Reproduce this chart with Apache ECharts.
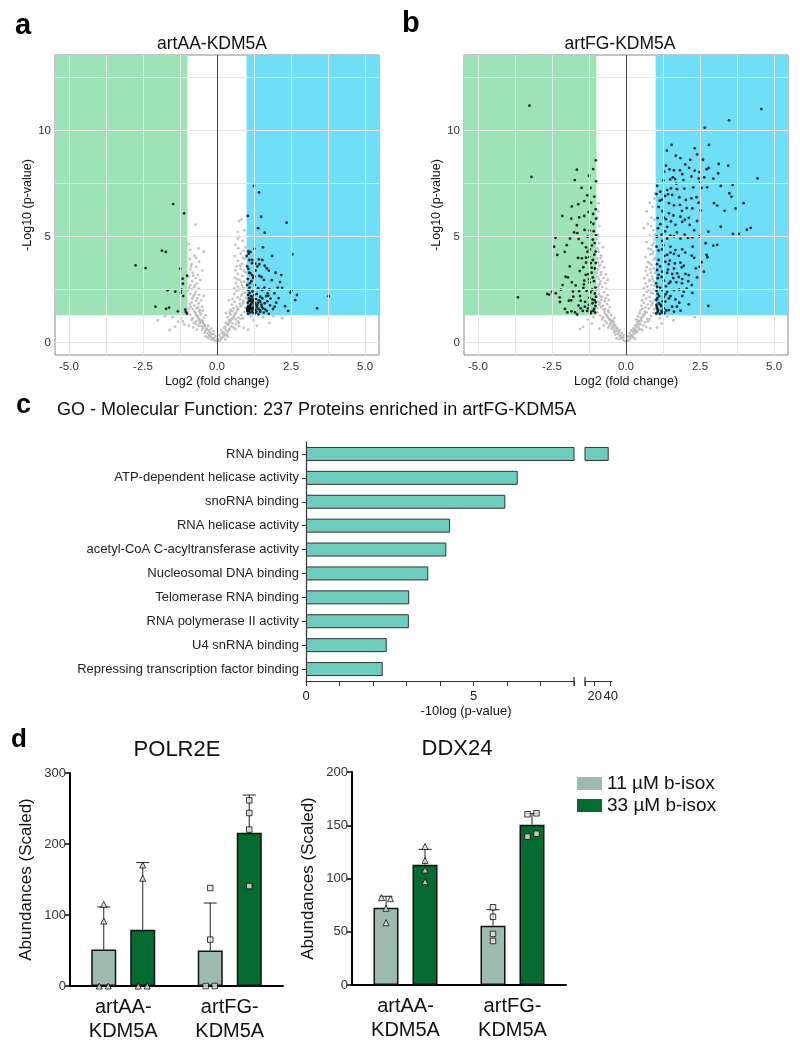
<!DOCTYPE html>
<html><head><meta charset="utf-8">
<script src="https://cdn.jsdelivr.net/npm/echarts@6/dist/echarts.min.js"></script>
<style>html,body{margin:0;padding:0;background:#fff}#c{width:800px;height:1046px}</style>
</head><body><div id="c"></div>
<script>
// ---------------- DATA ----------------
const FC_CUT = 1;        // log2 fold-change threshold
const P_CUT = 1.3;       // -log10(0.05)
const VX_TICKS = [-5, -2.5, 0, 2.5, 5];
const VY_TICKS = [0, 5, 10];
const VX_GRID = [-5, -3.75, -2.5, -1.25, 0, 1.25, 2.5, 3.75, 5];
const VY_GRID = [0, 2.5, 5, 7.5, 10, 12.5];

// panel a: artAA-KDM5A
const AA_NS = [[0,0.02],[-0.04,0.06],[0.05,0.05],[-0.1,0.12],[0.09,0.1],[-0.15,0.2],[0.14,0.18],[-0.2,0.28],[0.2,0.26],[-0.26,0.36],[0.26,0.34],[-0.32,0.44],[0.3,0.42],[-0.06,0.3],[0.08,0.36],[-0.12,0.42],[0.16,0.46],[-0.22,0.48],[0.02,0.16],[-0.3,0.22],[0.28,0.15],[-0.38,0.3],[0.36,0.28],
[-0.4,0.55],[-0.35,0.62],[-0.46,0.7],[-0.28,0.58],[-0.52,0.78],[-0.42,0.85],[-0.58,0.92],[-0.2,0.66],[-0.3,0.8],[-0.48,0.98],[0.36,0.52],[0.3,0.6],[0.42,0.66],[0.24,0.7],[0.48,0.76],[0.38,0.84],[0.52,0.9],[0.3,0.94],[0.45,1.0],[-0.68,0.62],[-0.8,0.72],[-0.95,0.8],[0.62,0.64],[0.75,0.78],[0.9,0.7],[-1.1,0.85],[-1.42,0.75],[-1.6,0.6],[1.35,0.8],[1.05,0.62],[-0.12,0.55],[0.15,0.6],
[-0.5,1.05],[-0.6,1.12],[-0.44,1.18],[-0.66,1.25],[-0.55,1.32],[-0.72,1.4],[-0.6,1.48],[-0.38,1.3],[-0.82,1.15],[-0.9,1.32],[-0.98,1.45],[0.4,1.05],[0.5,1.12],[0.36,1.2],[0.58,1.26],[0.46,1.34],[0.64,1.4],[0.52,1.48],[0.72,1.18],[0.82,1.3],[0.92,1.44],[0.3,1.4],[-1.22,1.15],[-1.31,0.99],[-1.5,1.2],[-2.0,1.05],[-1.75,1.25],[1.23,1.07],[1.56,1.2],[1.77,0.93],[2.2,1.15],[1.9,1.25],[1.15,1.25],[-1.15,1.0],
[-0.58,1.55],[-0.68,1.62],[-0.5,1.7],[-0.76,1.75],[-0.62,1.85],[-0.86,1.9],[-0.7,1.98],[-0.95,1.6],[-0.54,2.0],[-0.66,2.1],[-0.8,2.18],[-0.6,2.26],[-0.9,2.3],[-0.72,2.4],[-0.98,2.45],[-0.45,2.2],[0.46,1.55],[0.56,1.62],[0.66,1.7],[0.5,1.8],[0.76,1.84],[0.6,1.92],[0.88,1.98],[0.96,1.65],[0.52,2.06],[0.7,2.14],[0.82,2.22],[0.58,2.3],[0.94,2.36],[0.66,2.44],[0.4,2.0],[0.98,2.1],
[-0.62,2.55],[-0.78,2.62],[-0.9,2.7],[-0.68,2.8],[-0.84,2.9],[-0.56,2.95],[-0.72,3.05],[-0.95,3.1],[-0.64,3.2],[-0.82,3.3],[-0.5,3.4],[-0.9,3.45],[0.58,2.56],[0.7,2.64],[0.84,2.72],[0.64,2.82],[0.92,2.88],[0.76,2.96],[0.6,3.06],[0.86,3.14],[0.7,3.24],[0.96,3.32],[0.62,3.42],[0.8,3.48],
[-0.7,3.58],[-0.86,3.7],[-0.6,3.82],[-0.92,3.95],[-0.76,4.1],[-0.45,4.29],[-0.91,4.38],[-0.62,4.45],[0.66,3.6],[0.84,3.72],[0.7,3.86],[0.94,3.98],[0.6,4.08],[0.8,4.2],[0.9,4.34],[0.72,4.46],
[-0.95,4.65],[-0.72,5.57],[0.62,4.62],[0.86,4.8],[0.74,5.0],[0.7,5.22],[0.75,5.74],[0.83,5.82],[0.92,5.3],
[-0.18,0.4],[-0.25,0.52],[0.22,0.5],[-0.34,0.66],[0.28,0.74],[-0.4,0.78],[0.34,0.88],[-0.46,0.88],[0.4,0.92],[-0.54,1.0],[0.46,1.08],[-0.6,1.05],[0.54,1.18],[-0.64,1.18],[0.6,1.36],[-0.7,1.3],[0.68,1.52],[-0.76,1.46],[0.72,1.6],[-0.82,1.58],[0.8,1.72],[-0.88,1.7],[0.86,1.82],[-0.92,1.82],[0.9,1.9],[-0.56,1.4],[0.42,1.44],[-0.48,1.52],[0.62,1.1],[-0.7,1.02],[0.7,1.0],[-0.78,0.95],[0.8,1.12],[-0.86,1.08],[0.88,1.16],[-0.64,1.68],[0.78,2.04],[-0.84,2.08],[0.86,2.3],[-0.76,2.28],[0.74,2.5],[-0.86,2.52],[0.9,2.6],[-0.94,2.6],[0.82,2.86],[-0.74,2.7],[0.68,3.0],[-0.8,3.16],[0.9,3.4],[-0.88,3.6],[0.78,3.62],[0.88,4.0],[-0.7,4.0],[0.96,4.5],[0.7,4.9],[-0.1,0.2],[0.12,0.24],[-0.2,0.15],[0.22,0.38],[-0.28,0.3],[0.34,0.36],[-0.42,0.46],[0.4,0.6],[-0.5,0.62],[0.56,0.72],[-0.62,0.8],[0.64,0.86],[-0.72,0.88],[0.74,0.94]];
const AA_DOWN = [[-1.48,6.54],[-1.11,6.10],[-1.86,4.34],[-1.73,4.28],[-2.75,3.65],[-2.41,3.52],[-1.24,3.49],[-1.01,3.16],[-1.16,3.02],[-1.15,2.78],[-1.67,2.47],[-1.41,2.41],[-1.22,2.36],[-1.14,2.20],[-2.08,1.70],[-1.72,1.60],[-1.62,1.65],[-1.32,1.48],[-1.07,1.56],[-1.01,1.37],[-1.05,1.45],[-1.2,2.5]];
const AA_UP = [[1.25,7.39],[1.42,7.09],[1.04,5.98],[1.49,5.94],[1.39,5.40],[1.61,5.19],[2.35,5.66],[1.26,4.43],[1.55,4.50],[1.86,4.09],[2.54,4.17],[1.06,4.31],[1.13,4.28],[1.00,4.09],[1.09,3.90],[1.19,3.90],[1.41,3.93],[1.53,3.90],[1.29,3.73],[1.43,3.70],[1.61,3.63],[1.68,3.51],[1.06,3.48],[1.13,3.27],[1.19,3.18],[1.26,3.12],[1.43,3.15],[1.58,2.96],[2.17,3.19],[2.13,2.86],[2.20,2.59],[2.51,2.45],[2.48,2.36],[2.70,2.25],[2.64,2.01],[3.77,2.19],[3.38,1.62],[1.94,2.33],[1.77,2.52],[2.00,1.89],[1.73,2.22],[1.81,2.08],[1.79,1.76],[1.89,1.59],[1.68,1.50],[1.58,1.42],[1.46,1.46],[1.33,1.45],[1.21,1.42],[1.05,1.36],[1.02,2.72],[1.11,2.80],[1.28,2.72],[1.39,2.57],[1.53,2.49],[1.06,2.49],[1.14,2.20],[1.08,2.09],[1.11,1.98],[1.17,1.93],[1.23,2.04],[1.28,1.86],[1.36,1.78],[1.46,1.93],[1.53,2.09],[1.61,1.86],[1.06,1.70],[1.15,1.62],[1.25,1.57],[1.08,1.51],[1.40,1.60],[1.51,1.70],[1.13,1.78],[1.19,2.17],[1.34,2.30],[1.46,2.17],[1.71,2.33],[1.02,1.54],[1.63,1.57],
[1.03,1.48],[1.07,1.55],[1.1,1.66],[1.12,1.74],[1.16,1.82],[1.2,1.9],[1.24,1.98],[1.04,1.88],[1.08,1.95],[1.15,2.05],[1.18,1.5],[1.22,1.66],[1.27,1.78],[1.3,1.55],[1.34,1.68],[1.38,1.88],[1.42,2.0],[1.05,2.25],[1.1,2.35],[1.2,2.42],[1.32,2.06],[1.26,2.26],[1.45,1.52],[1.5,1.8],[1.55,1.62],[1.1,2.6],[1.16,2.9],[1.22,3.05],[1.3,3.4],[1.36,3.6],[1.04,3.0],[1.09,3.3],[1.18,3.75],[1.02,3.6],[1.07,4.2],[1.66,2.2],[1.7,1.95],[1.95,1.7],[2.08,2.1],[2.3,1.72],[1.6,2.6],[1.85,2.95],[1.98,3.3],[2.05,2.6],[1.75,3.4],[1.5,3.1],[1.12,1.42],[1.28,1.38],[1.4,1.34],[1.75,1.36],[2.4,1.5],[1.02,1.62],[1.06,1.72],[1.14,1.6]];

// panel b: artFG-KDM5A
const FG_NS = [[0,0.02],[-0.05,0.08],[0.04,0.06],[-0.1,0.15],[0.1,0.12],[-0.16,0.24],[0.15,0.2],[-0.22,0.32],[0.2,0.3],[-0.28,0.42],[0.26,0.4],[-0.08,0.36],[0.06,0.28],[-0.14,0.46],[0.12,0.44],[-0.32,0.2],[0.3,0.18],[0.32,0.48],[-0.36,0.38],
[-0.34,0.54],[-0.4,0.62],[-0.3,0.7],[-0.46,0.76],[-0.36,0.84],[-0.52,0.9],[-0.42,0.98],[-0.22,0.6],[-0.6,0.7],[-0.75,0.82],[-0.9,0.66],[0.3,0.55],[0.36,0.62],[0.26,0.68],[0.42,0.74],[0.32,0.82],[0.48,0.88],[0.38,0.96],[0.55,0.6],[0.68,0.75],[0.82,0.68],[-1.15,0.9],[-1.55,0.65],[-1.45,0.75],[1.2,0.9],[1.05,0.72],[0.18,0.58],
[-0.46,1.04],[-0.56,1.1],[-0.4,1.16],[-0.62,1.22],[-0.5,1.3],[-0.7,1.36],[-0.58,1.44],[-0.8,1.1],[-0.88,1.28],[-0.96,1.42],[0.42,1.04],[0.34,1.1],[0.5,1.16],[0.4,1.24],[0.58,1.3],[0.46,1.38],[0.64,1.46],[0.72,1.12],[0.84,1.26],[0.94,1.4],[1.39,1.23],[2.32,1.2],[1.6,1.05],[-1.3,1.1],[-1.1,1.2],[1.15,1.15],
[-0.6,1.52],[-0.7,1.6],[-0.55,1.68],[-0.78,1.74],[-0.64,1.82],[-0.88,1.88],[-0.72,1.96],[-0.96,1.62],[-0.58,2.02],[-0.68,2.1],[-0.82,2.16],[-0.62,2.24],[-0.92,2.3],[-0.74,2.38],[-0.98,2.46],[-0.84,2.02],[0.48,1.52],[0.56,1.6],[0.66,1.66],[0.52,1.74],[0.74,1.8],[0.6,1.88],[0.84,1.94],[0.94,1.58],[0.54,2.0],[0.68,2.08],[0.8,2.16],[0.6,2.24],[0.9,2.32],[0.7,2.4],[0.98,2.06],[0.78,2.48],
[-0.66,2.54],[-0.8,2.62],[-0.92,2.72],[-0.7,2.8],[-0.86,2.9],[-0.62,2.96],[-0.76,3.06],[-0.96,3.12],[-0.68,3.22],[-0.84,3.32],[-0.94,3.44],[0.6,2.56],[0.72,2.64],[0.86,2.72],[0.66,2.8],[0.94,2.88],[0.78,2.96],[0.62,3.04],[0.88,3.12],[0.72,3.2],[0.98,3.3],[0.66,3.38],[0.82,3.46],
[-0.74,3.56],[-0.88,3.68],[-0.8,3.82],[-0.96,3.96],[-0.84,4.12],[-0.92,4.3],[-0.78,4.5],[-0.9,4.7],[0.7,3.56],[0.86,3.66],[0.74,3.8],[0.94,3.92],[0.66,4.04],[0.82,4.16],[0.92,4.3],[0.76,4.44],[0.88,4.6],[0.7,4.74],[0.96,4.86],
[-0.95,5.1],[-0.9,5.5],[-0.97,5.9],[-0.92,6.58],[0.8,5.05],[0.92,5.3],[0.74,5.6],[0.86,5.9],[0.7,6.2],[0.9,6.4],[0.99,7.05],[0.96,6.8],[0.6,5.4],
[-0.18,0.36],[0.18,0.34],[-0.24,0.5],[0.22,0.52],[-0.3,0.62],[0.28,0.64],[-0.38,0.72],[0.34,0.76],[-0.44,0.86],[0.4,0.86],[-0.5,0.98],[0.46,1.0],[-0.54,1.08],[0.52,1.06],[-0.6,1.18],[0.56,1.22],[-0.66,1.3],[0.62,1.34],[-0.72,1.46],[0.7,1.42],[-0.76,1.56],[0.78,1.62],[-0.84,1.66],[0.86,1.76],[-0.9,1.78],[0.9,1.86],[-0.94,1.94],[0.96,2.0],[-0.86,2.2],[0.84,2.36],[-0.9,2.5],[0.92,2.5],[-0.96,2.62],[0.96,2.7],[-0.88,2.76],[0.8,2.9],[-0.92,3.0],[0.9,3.0],[-0.86,3.2],[0.84,3.3],[-0.98,3.3],[0.94,3.5],[-0.9,3.6],[0.8,3.74],[-0.94,3.8],[0.98,4.0],[-0.86,4.0],[0.9,4.2],[-0.96,4.46],[0.84,4.4],[0.94,4.7],[-0.98,4.9],[0.98,5.1],[0.84,5.5],[0.96,5.8],[0.8,6.6],[-0.94,6.2],[-0.1,0.26],[0.12,0.3],[-0.22,0.18],[0.24,0.24],[-0.4,0.5],[0.38,0.52],[-0.48,0.66],[0.46,0.64],[-0.56,0.8],[0.58,0.82],[-0.64,0.92],[0.64,0.96],[-0.7,1.02],[0.74,1.0],[-0.78,1.2],[0.8,1.1]];
const FG_DOWN = [[-3.26,11.18],[-3.19,7.82],[-1.02,8.60],[-1.66,8.16],[-1.11,8.19],[-1.25,7.88],[-1.73,7.67],[-1.01,7.61],[-1.31,6.95],[-1.07,6.89],[-1.41,6.68],[-1.61,6.53],[-1.83,6.43],[-2.15,5.98],[-1.85,5.85],[-1.58,5.91],[-1.41,5.98],[-1.26,6.17],[-1.11,6.07],[-1.01,5.85],[-1.20,5.68],[-1.66,5.54],[-1.40,5.32],[-1.23,5.29],[-1.09,5.26],[-1.64,5.17],[-2.38,4.95],[-1.89,4.91],[-1.60,4.89],[-1.01,5.06],[-2.43,4.53],[-2.07,4.28],[-2.32,4.14],[-1.12,4.86],[-1.15,4.58],[-1.30,4.29],[-1.49,3.98],[-1.35,4.01],[-1.24,4.04],[-1.07,4.15],[-1.02,3.76],[-1.19,3.75],[-1.35,3.78],[-1.44,3.56],[-1.16,3.54],[-1.56,3.38],[-1.27,3.23],[-2.04,3.11],[-1.96,3.08],[-1.83,2.85],[-1.41,2.93],[-1.23,2.84],[-1.12,3.08],[-2.14,2.72],[-2.20,2.50],[-2.66,2.30],[-2.60,2.27],[-3.65,2.14],[-2.37,2.33],[-1.79,2.41],[-1.58,2.43],[-1.44,2.58],[-1.33,2.45],[-1.20,2.38],[-1.05,2.32],[-2.24,2.14],[-2.23,1.92],[-1.93,1.98],[-1.78,2.17],[-1.53,1.98],[-1.38,1.93],[-1.24,2.12],[-1.13,2.04],[-1.01,2.17],[-2.06,1.59],[-1.98,1.43],[-1.84,1.48],[-1.72,1.43],[-1.65,1.33],[-1.53,1.62],[-1.39,1.70],[-1.31,1.50],[-1.18,1.46],[-1.08,1.59],[-1.03,1.73],[-1.13,1.86],[-1.25,1.78],
[-1.03,2.6],[-1.08,2.9],[-1.16,3.3],[-1.05,3.5],[-1.22,4.4],[-1.06,4.7],[-1.3,5.0],[-1.1,5.6],[-1.02,6.3],[-1.18,6.6],[-1.5,7.3],[-1.2,7.3],[-1.04,1.42],[-1.1,1.5],[-1.2,1.38],[-1.28,1.62],[-1.46,1.5],[-1.55,2.2],[-1.7,2.7],[-1.9,3.6],[-2.0,4.6],[-1.75,5.2],[-1.62,4.0],[-1.35,4.5],[-1.48,4.7],[-1.12,3.9],[-1.02,4.3],[-1.06,2.0],[-1.14,2.5],[-1.25,3.0],[-1.36,3.2],[-1.42,2.75],[-1.6,1.75],[-1.85,2.0],[-2.5,2.4],[-1.02,1.9]];
const FG_UP = [[4.57,11.02],[3.48,10.49],[2.66,10.14],[4.44,7.75],[1.54,9.33],[1.38,9.06],[2.32,9.17],[2.80,9.33],[1.68,8.82],[1.84,8.71],[2.17,8.62],[2.40,8.88],[2.60,8.63],[3.13,8.43],[3.45,8.35],[1.29,8.07],[1.47,8.18],[1.62,8.13],[1.82,8.13],[2.13,8.25],[2.32,8.12],[2.48,8.05],[2.72,8.18],[2.79,8.24],[3.11,7.98],[1.26,7.66],[1.49,7.70],[1.66,7.72],[1.94,7.67],[2.21,7.84],[2.46,7.75],[2.64,7.80],[2.95,7.74],[3.60,7.44],[3.20,7.39],[2.55,7.30],[2.74,7.33],[2.27,7.33],[1.97,7.27],[1.72,7.24],[1.52,7.28],[1.39,7.20],[1.16,7.12],[1.03,7.01],[1.32,6.92],[1.56,6.97],[1.80,6.86],[2.02,6.73],[2.21,6.81],[2.38,6.86],[3.49,7.05],[3.56,6.89],[2.97,6.58],[3.08,6.47],[3.33,6.22],[3.97,6.58],[3.70,6.33],[1.14,6.70],[1.45,6.58],[1.62,6.48],[1.89,6.22],[2.24,6.33],[2.52,6.23],[1.23,6.20],[1.07,5.88],[1.35,5.82],[1.52,5.72],[1.84,5.94],[1.99,5.80],[2.12,5.89],[2.40,5.74],[1.16,5.59],[1.39,5.46],[1.67,5.56],[1.90,5.70],[2.15,5.56],[2.78,5.24],[3.20,5.47],[3.61,5.13],[3.81,5.13],[4.08,5.33],[4.21,5.42],[1.05,4.99],[1.22,4.80],[1.39,4.91],[1.62,5.02],[1.84,4.91],[2.09,4.94],[2.24,4.97],[2.49,5.02],[2.69,4.69],[2.95,4.58],[3.08,4.61],[2.25,4.53],[1.03,4.53],[1.22,4.40],[1.50,4.53],[1.67,4.37],[1.90,4.40],[1.39,4.14],[1.62,4.19],[2.22,4.11],[2.72,4.14],[2.75,4.03],[1.10,3.90],[1.33,3.82],[1.48,3.87],[1.65,3.74],[1.84,3.77],[1.95,3.63],[2.36,3.51],[2.49,3.58],[2.63,3.35],[1.05,3.43],[1.22,3.35],[1.39,3.30],[1.56,3.24],[1.73,3.27],[2.01,3.24],[2.12,3.19],[1.07,3.04],[1.28,2.93],[1.50,2.88],[1.70,2.85],[1.89,2.80],[2.40,3.08],[2.22,2.72],[1.05,2.64],[1.22,2.48],[1.39,2.40],[1.62,2.48],[1.79,2.51],[1.95,2.40],[2.24,2.35],[1.07,2.30],[1.28,2.17],[1.45,2.09],[1.67,2.04],[1.80,1.89],[2.12,1.81],[2.78,1.73],[1.03,2.01],[1.11,1.86],[1.19,1.73],[1.28,1.62],[1.45,1.54],[1.62,1.46],[1.84,1.51],[1.05,1.62],[1.07,1.46],[1.22,1.42],[1.03,1.78],[1.33,1.94],
[1.02,1.38],[1.08,1.55],[1.14,1.36],[1.2,1.5],[1.3,1.4],[1.36,1.52],[1.04,1.68],[1.16,1.8],[1.24,1.95],[1.06,2.1],[1.12,2.2],[1.34,2.28],[1.5,2.2],[1.56,1.7],[1.72,1.7],[1.9,2.2],[2.05,2.55],[1.03,2.45],[1.15,2.6],[1.35,2.66],[1.45,2.8],[1.6,3.05],[1.02,2.8],[1.1,3.2],[1.2,3.1],[1.42,3.45],[1.62,3.5],[1.78,3.1],[1.9,3.0],[2.1,2.9],[1.05,3.7],[1.15,3.6],[1.3,4.1],[1.5,4.25],[1.78,4.1],[2.0,4.25],[1.1,4.35],[1.2,5.1],[1.32,5.25],[1.5,5.05],[1.72,5.2],[1.98,5.1],[2.3,5.3],[1.08,5.4],[1.28,5.9],[1.45,6.1],[1.6,6.0],[1.82,6.5],[2.05,6.35],[1.1,6.4],[1.22,6.75],[1.42,7.0],[1.7,7.5],[1.9,7.95],[2.5,7.55],[1.05,7.4],[1.58,7.8],[2.0,8.4],[1.35,8.35],[2.45,6.6],[1.03,5.0],[1.26,4.6],[1.44,3.7],[1.88,3.55],[2.3,4.0],[2.55,3.8]];

// panel c: GO molecular function
const GO_TERMS = ['RNA binding','ATP-dependent helicase activity','snoRNA binding','RNA helicase activity','acetyl-CoA C-acyltransferase activity','Nucleosomal DNA binding','Telomerase RNA binding','RNA polymerase II activity','U4 snRNA binding','Repressing transcription factor binding'];
const GO_VALUES = [37.5, 6.32, 5.95, 4.30, 4.19, 3.65, 3.08, 3.07, 2.41, 2.29];
const GO_BREAK = [8, 41.6];        // axis break: lower segment 0-8, upper segment 8-41.6
const GO_UPPER_TICKS = [8, 20, 40];
const GO_UPPER_LABELS = [20, 40];

// panel d: abundances
const D_CATS = ['artAA-\nKDM5A', 'artFG-\nKDM5A'];
const SERIES_NAMES = ['11 µM b-isox', '33 µM b-isox'];
const POLR2E_MEAN_11 = [51.3, 49.9];
const POLR2E_MEAN_33 = [79.4, 216];
const POLR2E_SD_TOP_11 = [111.3, 116.9];
const POLR2E_SD_TOP_33 = [173.8, 269];
const POLR2E_REP_11 = [[115, 91.5, 0, 0], [138, 65.3, 0, 0]];
const POLR2E_REP_33 = [[170.4, 151.7, 0, 0], [261.5, 243.7, 220.3, 140.8]];
const DDX24_MEAN_11 = [72.6, 55.7];
const DDX24_MEAN_33 = [113, 150.5];
const DDX24_SD_TOP_11 = [83.3, 70.7];
const DDX24_SD_TOP_33 = [127.4, 161];
const DDX24_REP_11 = [[82, 81, 72, 58.5], [73, 64, 48, 41.3]];
const DDX24_REP_33 = [[130, 117, 108, 97], [160.3, 161.2, 139.3, 142]];

// ---------------- STYLE ----------------
const FONT = '"Liberation Sans", Arial, Helvetica, sans-serif';
const GREEN = '#9de3b7', BLUE = '#6fdff8', GRAY = '#b4b4b4';
const TEAL = '#6ccdbd', LIGHT = '#9dbbad', DARK = '#036a30';
const VX = [-5.47, 5.47], VY = [-0.58, 13.57];
const GO_GRID_BOTTOM = 442 + 239;

const chart = echarts.init(document.getElementById('c'), null, {renderer: 'canvas'});

function volcanoX(gi) {
  return {type: 'value', gridIndex: gi, min: VX[0], max: VX[1], z: 3,
    axisLine: {show: false}, splitLine: {show: false},
    axisTick: {show: true, customValues: VX_TICKS, length: 3, lineStyle: {color: '#444'}},
    axisLabel: {customValues: VX_TICKS, formatter: v => Number(v).toFixed(1), fontSize: 11.5, color: '#333', margin: 6, fontFamily: FONT},
    name: 'Log2 (fold change)', nameLocation: 'middle', nameGap: 20,
    nameTextStyle: {fontSize: 12.5, color: '#111', fontFamily: FONT}};
}
function volcanoY(gi) {
  return {type: 'value', gridIndex: gi, min: VY[0], max: VY[1], z: 3,
    axisLine: {show: false}, splitLine: {show: false},
    axisTick: {show: true, customValues: VY_TICKS, length: 3, lineStyle: {color: '#444'}},
    axisLabel: {customValues: VY_TICKS, fontSize: 11.5, color: '#333', margin: 4, fontFamily: FONT},
    name: '-Log10 (p-value)', nameLocation: 'middle', nameGap: 21,
    nameTextStyle: {fontSize: 12.5, color: '#111', fontFamily: FONT}};
}
function volcanoSeries(ai, ns, down, up) {
  const ax = {xAxisIndex: ai, yAxisIndex: ai};
  const gridLines = VX_GRID.map(v => ({xAxis: v})).concat(VY_GRID.map(v => ({yAxis: v})));
  return [
    Object.assign({type: 'scatter', data: [], z: 1, silent: true,
      markArea: {silent: true, data: [
        [{coord: [VX[0], P_CUT], itemStyle: {color: GREEN}}, {coord: [-FC_CUT, VY[1]]}],
        [{coord: [FC_CUT, P_CUT], itemStyle: {color: BLUE}}, {coord: [VX[1], VY[1]]}]
      ]}}, ax),
    Object.assign({type: 'scatter', data: [], z: 2, silent: true,
      markLine: {silent: true, symbol: ['none', 'none'], label: {show: false},
        lineStyle: {color: '#e6e6e6', width: 1, type: 'solid'}, animation: false, data: gridLines}}, ax),
    Object.assign({type: 'scatter', data: ns, z: 3, symbolSize: 2.8, itemStyle: {color: GRAY}, silent: true}, ax),
    Object.assign({type: 'scatter', data: down.concat(up), z: 4, symbolSize: 2.8, itemStyle: {color: '#000'}, silent: true}, ax),
    Object.assign({type: 'scatter', data: [], z: 5, silent: true,
      markLine: {silent: true, symbol: ['none', 'none'], label: {show: false},
        lineStyle: {color: '#444', width: 1, type: 'solid'}, animation: false, data: [{xAxis: 0}]}}, ax)
  ];
}

// pair up overlapping replicate points side by side (simple beeswarm)
function swarm(vals, thr) {
  const used = vals.map(() => false), off = vals.map(() => 0);
  for (let i = 0; i < vals.length; i++) {
    if (used[i]) continue;
    const cl = [i]; used[i] = true;
    for (let j = i + 1; j < vals.length; j++) {
      if (!used[j] && Math.abs(vals[j] - vals[i]) < thr) { cl.push(j); used[j] = true; }
    }
    if (cl.length > 1) cl.forEach((k, ci) => { off[k] = (ci - (cl.length - 1) / 2) * 9; });
  }
  return off;
}
const BAR_W = 25, BAR_GAP = 14, HALF = (BAR_W + BAR_GAP) / 2;
function repSeries(ai, reps, side, thr) {
  const data = [];
  reps.forEach((vals, c) => {
    const off = swarm(vals, thr);
    vals.forEach((v, k) => data.push({value: [c, v],
      symbol: c === 0 ? 'triangle' : 'rect', symbolSize: c === 0 ? 6 : 5.5,
      symbolOffset: [side * HALF + off[k], 0]}));
  });
  return {type: 'scatter', xAxisIndex: ai, yAxisIndex: ai, data, z: 6, silent: true,
    itemStyle: {color: '#e4e4e4', borderColor: '#111', borderWidth: 1}};
}
function errSeries(xi, yi, means, tops, side) {
  return {type: 'custom', xAxisIndex: xi, yAxisIndex: yi, z: 5, silent: true,
    data: means.map((m, i) => [i, m, tops[i]]),
    renderItem: (params, api) => {
      const p1 = api.coord([api.value(0), api.value(1)]);
      const p2 = api.coord([api.value(0), api.value(2)]);
      const x = p1[0] + side * HALF;
      return {type: 'group', children: [
        {type: 'line', shape: {x1: x, y1: p1[1], x2: x, y2: p2[1]}, style: {stroke: '#222', lineWidth: 1}},
        {type: 'line', shape: {x1: x - 6.5, y1: p2[1], x2: x + 6.5, y2: p2[1]}, style: {stroke: '#222', lineWidth: 1}}
      ]};
    }};
}
function barSeries(xi, yi, name, data, color) {
  return {type: 'bar', name, xAxisIndex: xi, yAxisIndex: yi, data, barWidth: BAR_W, barGap: (BAR_GAP / BAR_W * 100) + '%', z: 3,
    itemStyle: {color, borderColor: '#111', borderWidth: 1.5}};
}
function dX(gi) {
  return {type: 'category', gridIndex: gi, data: D_CATS,
    axisLine: {lineStyle: {color: '#000', width: 2}}, axisTick: {show: false},
    axisLabel: {fontSize: 20, color: '#111', lineHeight: 24, margin: 9, fontFamily: FONT}};
}
function dY(gi, max, interval) {
  return {type: 'value', gridIndex: gi, min: 0, max, interval, splitLine: {show: false},
    axisLine: {show: true, lineStyle: {color: '#000', width: 2}},
    axisTick: {show: true, length: 5, lineStyle: {color: '#000', width: 1.5}},
    axisLabel: {fontSize: 13, color: '#333', margin: 4, fontFamily: FONT},
    name: 'Abundances (Scaled)', nameLocation: 'middle', nameGap: 35,
    nameTextStyle: {fontSize: 17, color: '#111', fontFamily: FONT}};
}
function T(text, x, y, size, o) {
  o = o || {};
  return {type: 'text', x, y, silent: true, style: {text, fill: o.color || '#111',
    font: (o.bold ? 'bold ' : '') + size + 'px ' + FONT,
    textAlign: o.align || 'left', textVerticalAlign: 'middle', align: o.align || 'left', verticalAlign: 'middle'}};
}

const option = {
  animation: false,
  textStyle: {fontFamily: FONT},
  grid: [
    {left: 55, top: 55, width: 324, height: 300, show: true, borderColor: '#888', borderWidth: 1, backgroundColor: '#fff'},
    {left: 464, top: 55, width: 324, height: 300, show: true, borderColor: '#888', borderWidth: 1, backgroundColor: '#fff'},
    {left: 306, top: 442, width: 268, height: 239},
    {left: 585, top: 442, width: 27, height: 239},
    {left: 70, top: 773, width: 213, height: 213},
    {left: 352, top: 772, width: 214, height: 213}
  ],
  xAxis: [
    volcanoX(0), volcanoX(1),
    {type: 'value', gridIndex: 2, min: 0, max: GO_BREAK[0], interval: 1, splitLine: {show: false},
      axisLine: {show: true, lineStyle: {color: '#333', width: 1.2}}, axisTick: {show: true, length: 5, lineStyle: {color: '#333'}},
      axisLabel: {formatter: v => (v === 0 || v === 5) ? String(v) : '', fontSize: 13, color: '#222', margin: 9}},
    {type: 'value', gridIndex: 3, min: GO_BREAK[0], max: GO_BREAK[1], splitLine: {show: false},
      axisLine: {show: true, lineStyle: {color: '#333', width: 1.2}},
      axisTick: {show: true, length: 5, customValues: GO_UPPER_TICKS, lineStyle: {color: '#333'}},
      axisLabel: {customValues: GO_UPPER_LABELS, fontSize: 13, color: '#222', margin: 9, hideOverlap: false}},
    dX(4), dX(5)
  ],
  yAxis: [
    volcanoY(0), volcanoY(1),
    {type: 'category', gridIndex: 2, data: GO_TERMS, inverse: true,
      axisLine: {show: true, lineStyle: {color: '#333', width: 1.2}}, axisTick: {show: true, alignWithLabel: true, length: 4, lineStyle: {color: '#333'}},
      axisLabel: {fontSize: 13, color: '#222', margin: 7, interval: 0}},
    {type: 'category', gridIndex: 3, data: GO_TERMS, inverse: true, show: false},
    dY(4, 300, 100), dY(5, 200, 50)
  ],
  legend: {data: SERIES_NAMES, left: 577, top: 774, orient: 'vertical', padding: 0, itemGap: 3,
    itemWidth: 25, itemHeight: 13, icon: 'rect', itemStyle: {borderWidth: 0},
    textStyle: {fontSize: 19, color: '#111', fontFamily: FONT}, selectedMode: false},
  series: [].concat(
    volcanoSeries(0, AA_NS, AA_DOWN, AA_UP),
    volcanoSeries(1, FG_NS, FG_DOWN, FG_UP),
    [
      {type: 'bar', xAxisIndex: 2, yAxisIndex: 2, data: GO_VALUES, barWidth: 14, silent: true,
        itemStyle: {color: TEAL, borderColor: '#333', borderWidth: 1}},
      {type: 'bar', xAxisIndex: 3, yAxisIndex: 3, data: GO_VALUES.map(v => v > GO_BREAK[0] ? v : '-'), barWidth: 14, silent: true,
        itemStyle: {color: TEAL, borderColor: '#333', borderWidth: 1}},
      barSeries(4, 4, SERIES_NAMES[0], POLR2E_MEAN_11, LIGHT),
      barSeries(4, 4, SERIES_NAMES[1], POLR2E_MEAN_33, DARK),
      errSeries(4, 4, POLR2E_MEAN_11, POLR2E_SD_TOP_11, -1),
      errSeries(4, 4, POLR2E_MEAN_33, POLR2E_SD_TOP_33, 1),
      repSeries(4, POLR2E_REP_11, -1, 300 * 0.02),
      repSeries(4, POLR2E_REP_33, 1, 300 * 0.02),
      barSeries(5, 5, SERIES_NAMES[0], DDX24_MEAN_11, LIGHT),
      barSeries(5, 5, SERIES_NAMES[1], DDX24_MEAN_33, DARK),
      errSeries(5, 5, DDX24_MEAN_11, DDX24_SD_TOP_11, -1),
      errSeries(5, 5, DDX24_MEAN_33, DDX24_SD_TOP_33, 1),
      repSeries(5, DDX24_REP_11, -1, 200 * 0.02),
      repSeries(5, DDX24_REP_33, 1, 200 * 0.02)
    ]
  ),
  graphic: [
    T('a', 15, 26, 29, {bold: true, color: '#000'}),
    T('b', 402, 24, 29, {bold: true, color: '#000'}),
    T('c', 16, 406, 27, {bold: true, color: '#000'}),
    T('d', 11, 740, 26, {bold: true, color: '#000'}),
    T('artAA-KDM5A', 212, 44, 17.5, {align: 'center'}),
    T('artFG-KDM5A', 620, 44, 17.5, {align: 'center'}),
    T('11 µM', 72, 71, 15.5), T('22 proteins', 68, 89, 15.5),
    T('33 µM', 371, 71, 15.5, {align: 'right'}), T('144 proteins', 377, 89, 15.5, {align: 'right'}),
    T('11 µM', 481, 71, 15.5), T('125 proteins', 477, 89, 15.5),
    T('33 µM', 780, 71, 15.5, {align: 'right'}), T('343 proteins', 787, 89, 15.5, {align: 'right'}),
    T('GO - Molecular Function: 237 Proteins enriched in artFG-KDM5A', 57, 410, 18),
    T('-10log (p-value)', 466, 711, 13, {align: 'center'}),
    T('POLR2E', 177, 750, 22, {align: 'center'}),
    T('DDX24', 457, 749, 22, {align: 'center'})
  ]
};
chart.setOption(option);

// axis-break marks at both ends of the gap
const bx1 = chart.convertToPixel({xAxisIndex: 2}, GO_BREAK[0]);
const bx2 = chart.convertToPixel({xAxisIndex: 3}, GO_BREAK[0]);
chart.setOption({graphic: option.graphic.concat([bx1, bx2].map(x => ({type: 'line', silent: true,
  shape: {x1: x, y1: GO_GRID_BOTTOM - 4, x2: x, y2: GO_GRID_BOTTOM + 5}, style: {stroke: '#333', lineWidth: 1.2}})))});
</script>
</body></html>
